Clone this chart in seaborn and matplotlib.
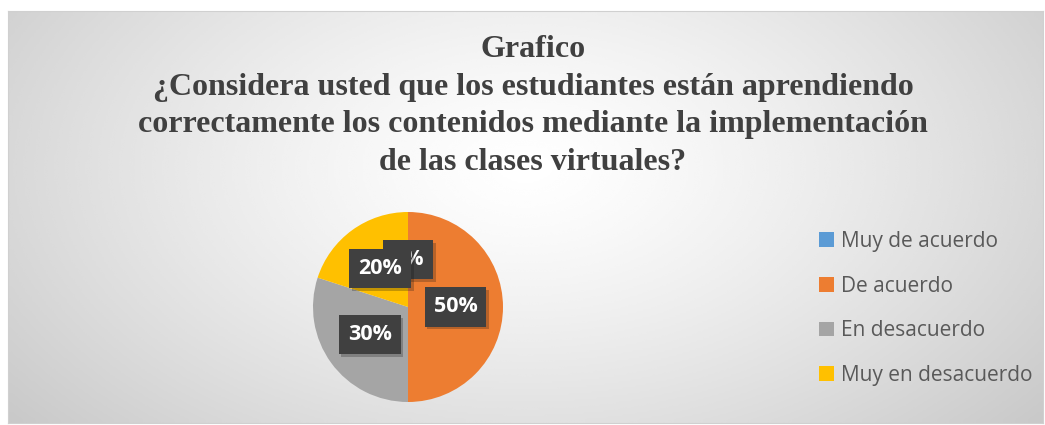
import numpy as np
import seaborn as sns
import matplotlib.pyplot as plt
import matplotlib.patheffects as pe

categorias = ['Muy de acuerdo', 'De acuerdo', 'En desacuerdo', 'Muy en desacuerdo']
porcentajes = [0, 50, 30, 20]
colores = ['#5B9BD5', '#ED7D31', '#A5A5A5', '#FFC000']
titulo = ('Grafico\n'
          '¿Considera usted que los estudiantes están aprendiendo\n'
          'correctamente los contenidos mediante la implementación\n'
          'de las clases virtuales?')

sns.set_theme(style='white')
plt.rcParams['font.family'] = ['Open Sans', 'DejaVu Sans']

fig = plt.figure(figsize=(10.45, 4.25), dpi=100)

# fondo con degradado radial
bg = fig.add_axes([8 / 1045, 2 / 425, 1035 / 1045, 412 / 425])
yy, xx = np.mgrid[0:1:200j, 0:1:500j]
d = np.sqrt(((xx - 0.5) / 0.5) ** 2 + ((yy - 0.62) / 0.75) ** 2) / np.sqrt(2)
grad = 1 - 0.24 * np.clip(d, 0, 1) ** 1.3
bg.imshow(grad, cmap='gray', vmin=0, vmax=1, aspect='auto', origin='lower',
          extent=[0, 1, 0, 1], interpolation='bicubic')
bg.set_xticks([])
bg.set_yticks([])
for s in bg.spines.values():
    s.set_color('#d0d0d0')
    s.set_linewidth(0.8)

fig.text(0.51, 0.918, titulo, ha='center', va='top', fontsize=23,
         fontweight='bold', family='Liberation Serif', color='#404040',
         linespacing=1.4)

ax = fig.add_axes([313 / 1045, 23 / 425, 190 / 1045, 190 / 425])
wedges, _, autotexts = ax.pie(porcentajes, colors=colores, startangle=90,
                              counterclock=False, autopct='%1.0f%%',
                              pctdistance=0.5, wedgeprops=dict(linewidth=0))
ax.set_xlim(-1, 1)
ax.set_ylim(-1, 1)
ax.set_aspect('equal')

for t in autotexts:
    t.set_color('white')
    t.set_fontsize(15.5)
    t.set_fontweight('bold')
    t.set_bbox(dict(boxstyle='square,pad=0.42', facecolor='#404040',
                    edgecolor='none'))
    t.get_bbox_patch().set_path_effects([
        pe.SimplePatchShadow(offset=(2, -2), alpha=0.25), pe.Normal()])

fig.legend(wedges, categorias, loc='upper left',
           bbox_to_anchor=(819 / 1045, 1 - 231 / 425), frameon=False,
           fontsize=15, labelcolor='#595959', handlelength=0.7,
           handleheight=0.7, handletextpad=0.35, labelspacing=1.13,
           borderpad=0, borderaxespad=0)

fig.savefig('out.png', dpi=100)
